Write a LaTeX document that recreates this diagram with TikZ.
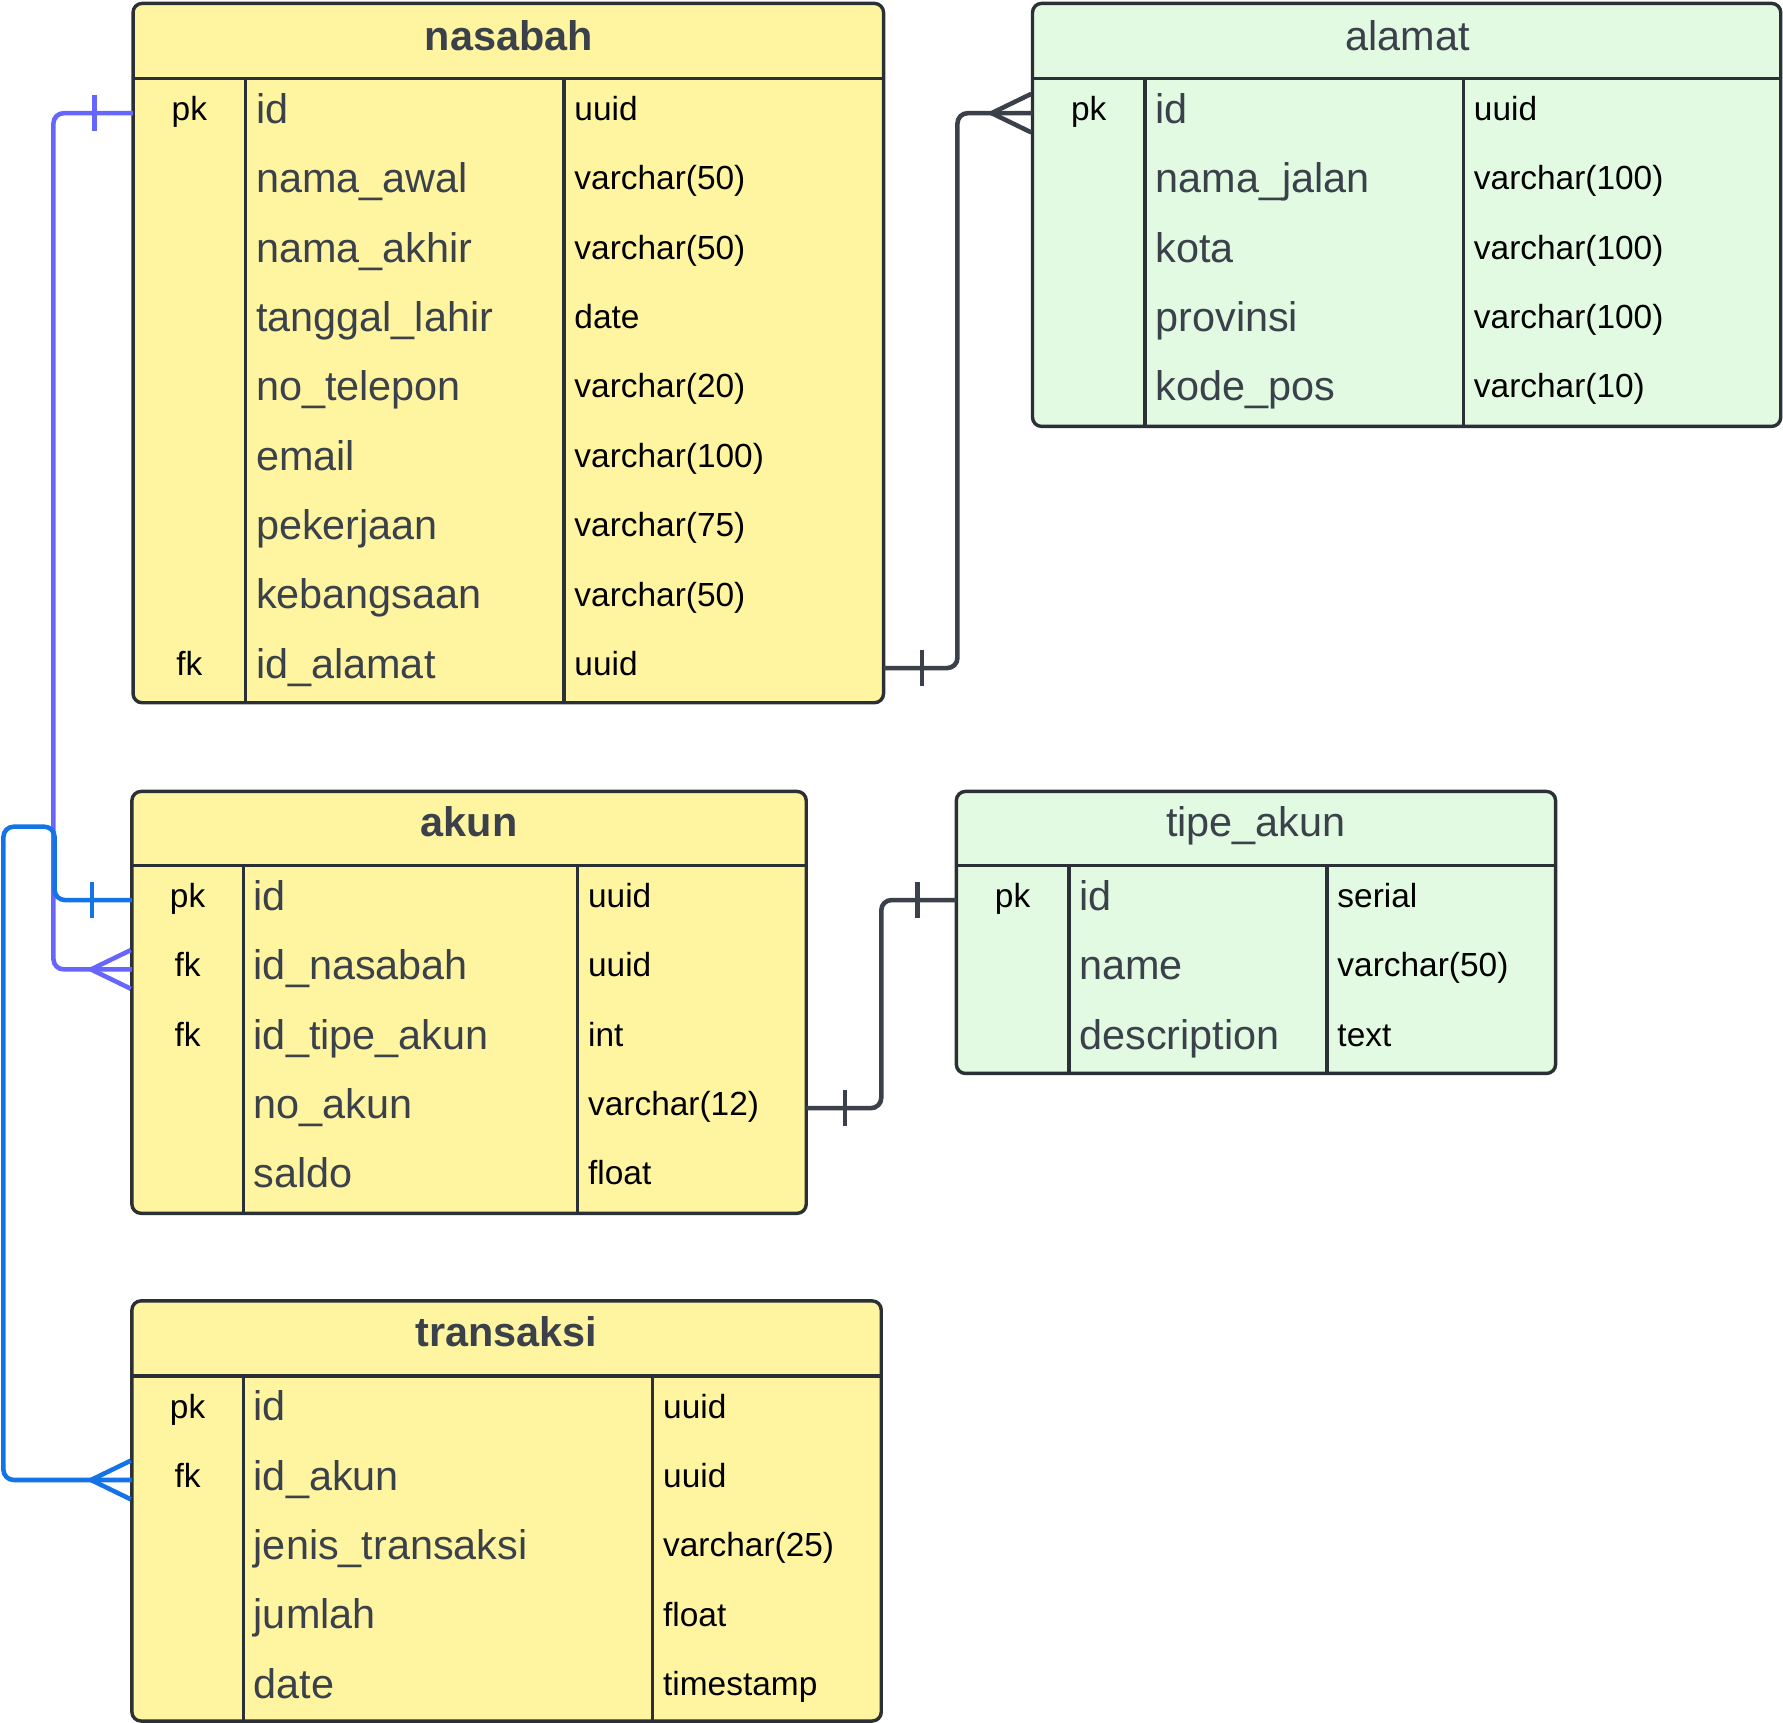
\documentclass[tikz,border=0pt]{standalone}
\usepackage{fontspec}
\setmainfont{Liberation Sans}
\usetikzlibrary{calc}

\definecolor{tblyellow}{HTML}{FFF5A1}
\definecolor{tblgreen}{HTML}{E1FAE1}
\definecolor{tblborder}{HTML}{2B2F36}
\definecolor{txtgray}{HTML}{3A414A}
\definecolor{relpurple}{HTML}{6666FF}
\definecolor{relblue}{HTML}{1473E6}
\definecolor{relgray}{HTML}{3A414A}

\tikzset{
  tbl/.style={draw=tblborder, line width=3pt, rounded corners=8pt, inner sep=0pt, outer sep=0pt, anchor=north west},
  tblline/.style={draw=tblborder, line width=3pt},
  keytxt/.style={anchor=base, inner sep=0pt, font=\fontsize{29.4}{32}\selectfont, text=black},
  nametxt/.style={anchor=base west, inner sep=0pt, font=\fontsize{36.4}{40}\selectfont, text=txtgray},
  typetxt/.style={anchor=base west, inner sep=0pt, font=\fontsize{29.4}{32}\selectfont, text=black},
  titlebold/.style={anchor=base, inner sep=0pt, font=\fontsize{36.4}{40}\selectfont\bfseries, text=txtgray},
  titlereg/.style={anchor=base, inner sep=0pt, font=\fontsize{36.4}{40}\selectfont, text=txtgray},
  rel/.style={line width=4pt, rounded corners=9pt},
  tick/.style={line width=4pt},
}

% one table row: row centre y, key, column name, column type
\newcommand\fld[4]{%
  \node[keytxt] at (\kx,#1+6.5) {#2};
  \node[nametxt] at (\nx,#1+9) {#3};
  \node[typetxt] at (\tx,#1+6.5) {#4};}

% table frame: name, left, top, right, bottom, header line y, col1 x, col2 x, fill
\newcommand\ertable[9]{%
  \node[tbl, fill=#9, minimum width=#4pt-#2pt, minimum height=#5pt-#3pt] (#1) at (#2,#3) {};
  \draw[tblline] (#2,#6) -- (#4,#6);
  \draw[tblline] (#7,#6) -- (#7,#5);
  \draw[tblline] (#8,#6) -- (#8,#5);}

\begin{document}
\begin{tikzpicture}[x=1pt,y=-1pt]
\useasboundingbox (0,0) rectangle (1568,1515);

% ---------- nasabah ----------
\ertable{nasabah}{117}{3}{777}{618}{69}{216}{496}{tblyellow}
\node[titlebold] (nasabah-title) at (447.5,44) {nasabah};
\def\kx{166.5}\def\nx{225}\def\tx{505}
\fld{99.5}{pk}{id}{uuid}
\fld{160.5}{}{nama\_awal}{varchar(50)}
\fld{221.5}{}{nama\_akhir}{varchar(50)}
\fld{282.5}{}{tanggal\_lahir}{date}
\fld{343.5}{}{no\_telepon}{varchar(20)}
\fld{404.5}{}{email}{varchar(100)}
\fld{465.5}{}{pekerjaan}{varchar(75)}
\fld{526.5}{}{kebangsaan}{varchar(50)}
\fld{587.5}{fk}{id\_alamat}{uuid}

% ---------- alamat ----------
\ertable{alamat}{908}{3}{1566}{375}{69}{1007}{1287}{tblgreen}
\node[titlereg] (alamat-title) at (1238,44) {alamat};
\def\kx{957.5}\def\nx{1016}\def\tx{1296}
\fld{99.5}{pk}{id}{uuid}
\fld{160.5}{}{nama\_jalan}{varchar(100)}
\fld{221.5}{}{kota}{varchar(100)}
\fld{282.5}{}{provinsi}{varchar(100)}
\fld{343.5}{}{kode\_pos}{varchar(10)}

% ---------- akun ----------
\ertable{akun}{116}{696}{709}{1067}{761}{214}{508}{tblyellow}
\node[titlebold] (akun-title) at (412.5,736) {akun};
\def\kx{165}\def\nx{223}\def\tx{517}
\fld{791.5}{pk}{id}{uuid}
\fld{852.5}{fk}{id\_nasabah}{uuid}
\fld{913.5}{fk}{id\_tipe\_akun}{int}
\fld{974.5}{}{no\_akun}{varchar(12)}
\fld{1035.5}{}{saldo}{float}

% ---------- tipe_akun ----------
\ertable{tipeakun}{841}{696}{1368}{944}{761}{940}{1167}{tblgreen}
\node[titlereg] (tipeakun-title) at (1104.5,736) {tipe\_akun};
\def\kx{890.5}\def\nx{949}\def\tx{1176}
\fld{791.5}{pk}{id}{serial}
\fld{852.5}{}{name}{varchar(50)}
\fld{913.5}{}{description}{text}

% ---------- transaksi ----------
\ertable{transaksi}{116}{1144}{775}{1513.5}{1210}{214}{574}{tblyellow}
\node[titlebold] (transaksi-title) at (445.5,1184) {transaksi};
\def\kx{165}\def\nx{223}\def\tx{583}
\fld{1240.5}{pk}{id}{uuid}
\fld{1301.5}{fk}{id\_akun}{uuid}
\fld{1362.5}{}{jenis\_transaksi}{varchar(25)}
\fld{1423.5}{}{jumlah}{float}
\fld{1484.5}{}{date}{timestamp}

% ---------- row anchors on the table edges ----------
\coordinate (nasabah-id)   at (nasabah.west |- 0,99.5);
\coordinate (nasabah-idal) at (nasabah.east |- 0,587.5);
\coordinate (alamat-id)    at (alamat.west |- 0,99.5);
\coordinate (akun-id)      at (akun.west |- 0,791.5);
\coordinate (akun-idnas)   at (akun.west |- 0,852.5);
\coordinate (akun-noakun)  at (akun.east |- 0,974.5);
\coordinate (tipeakun-id)  at (tipeakun.west |- 0,791.5);
\coordinate (transaksi-idakun) at (transaksi.west |- 0,1301.5);

% ---------- relationships ----------
% nasabah.id  (one) -> akun.id_nasabah (many)
\draw[rel, relpurple] (nasabah-id) -- ++(-70,0) |- (akun-idnas);
\draw[tick, relpurple] ($(nasabah-id)+(-34,-16)$) -- ($(nasabah-id)+(-34,16)$);
\draw[tick, relpurple] ($(akun-idnas)+(-1,-17)$) -- ($(akun-idnas)+(-36,0)$) -- ($(akun-idnas)+(-1,17)$);

% akun.id (one) -> transaksi.id_akun (many)
\draw[rel, relblue] (akun-id) -| ++(-68,-64.5) -- ++(-45,0) |- (transaksi-idakun);
\draw[tick, relblue] ($(akun-id)+(-35,-16)$) -- ($(akun-id)+(-35,16)$);
\draw[tick, relblue] ($(transaksi-idakun)+(-1,-17)$) -- ($(transaksi-idakun)+(-36,0)$) -- ($(transaksi-idakun)+(-1,17)$);

% nasabah.id_alamat (one) -> alamat.id (many)
\draw[rel, relgray] (nasabah-idal) -- ++(65,0) |- (alamat-id);
\draw[tick, relgray] ($(nasabah-idal)+(34,-16)$) -- ($(nasabah-idal)+(34,16)$);
\draw[tick, relgray] ($(alamat-id)+(-1,-17)$) -- ($(alamat-id)+(-36,0)$) -- ($(alamat-id)+(-1,17)$);

% akun.no_akun (one) -> tipe_akun.id (one)
\draw[rel, relgray] (akun-noakun) -- ++(66,0) |- (tipeakun-id);
\draw[tick, relgray] ($(akun-noakun)+(34,-16)$) -- ($(akun-noakun)+(34,16)$);
\draw[tick, relgray] ($(tipeakun-id)+(-34,-16)$) -- ($(tipeakun-id)+(-34,16)$);
\end{tikzpicture}
\end{document}
